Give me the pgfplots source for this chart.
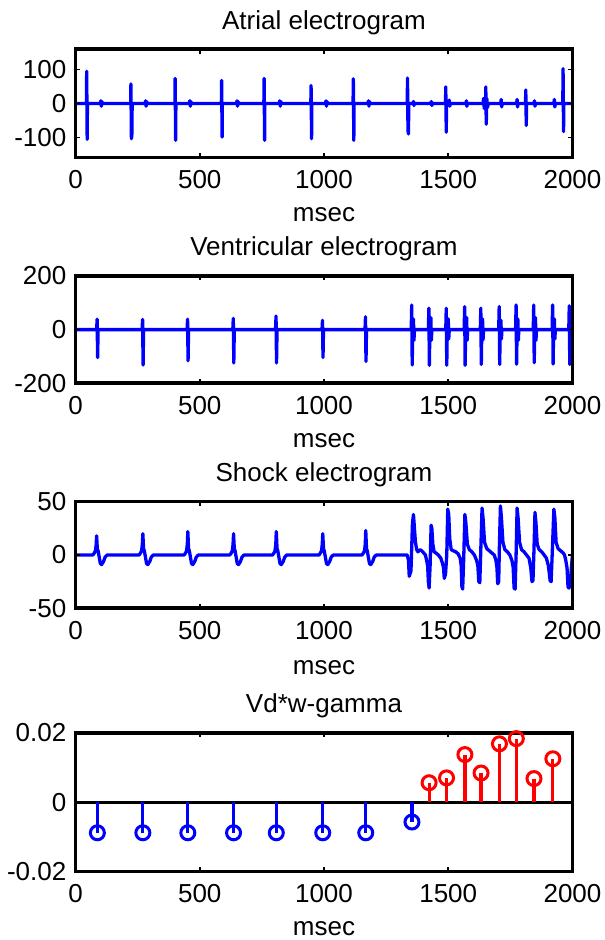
\documentclass[border=0pt]{standalone}
\usepackage{fontspec}
\setmainfont{Liberation Sans}
\usepackage{pgfplots}
\usepackage{pgfplotstable}
\pgfplotsset{compat=1.18}
\definecolor{mblue}{rgb}{0,0,1}
\definecolor{mred}{rgb}{1,0,0}

\pgfplotstableread{
x y
0 0
44 0
45 95
47 -106
48 0
100 0
102 8
104 -8
106 6
108 0
222 0
223 58
225 -104
227 -90
228 0
280 0
282 8
284 -8
286 6
288 0
400 0
401 74
403 -109
404 0
458 0
460 8
462 -8
464 6
466 0
587 0
588 68
590 -99
591 0
648 0
650 8
652 -8
654 6
656 0
758 0
759 74
761 -109
762 0
820 0
822 8
824 -8
826 6
828 0
947 0
948 53
950 -104
951 0
1006 0
1008 8
1010 -8
1012 6
1014 0
1117 0
1118 73
1120 -109
1121 0
1177 0
1179 8
1181 -8
1183 6
1185 0
1335 0
1336 75
1338 -80
1340 -90
1341 0
1358 0
1360 6
1362 -6
1364 0
1430 0
1432 6
1434 -6
1436 0
1489 0
1490 49
1492 -85
1493 0
1502 0
1504 10
1506 -8
1508 0
1571 0
1573 8
1575 -8
1577 0
1640 0
1642 15
1645 -15
1648 12
1650 -10
1651 49
1653 -61
1655 15
1658 -12
1661 0
1711 0
1713 12
1715 -10
1717 0
1775 0
1777 12
1779 -10
1781 0
1811 0
1812 40
1814 -65
1815 0
1845 0
1847 8
1849 -8
1851 0
1925 0
1927 12
1929 -10
1931 0
1961 0
1962 103
1964 -83
1965 0
2000 0
}\atrial

\pgfplotstableread{
x y
0 0
85 0
87 39
89 -104
91 0
268 0
270 38
272 -132
274 0
449 0
451 39
453 -116
455 0
633 0
635 42
637 -124
639 0
805 0
807 51
809 -124
811 0
992 0
994 35
996 -104
998 0
1165 0
1167 48
1169 -119
1171 0
1351 0
1353 92
1355 -132
1357 0
1360 40
1362 -40
1364 0
1420 0
1422 80
1424 -133
1426 0
1430 45
1432 -40
1434 0
1490 0
1492 80
1494 -133
1496 0
1500 40
1502 -35
1504 0
1564 0
1566 86
1568 -133
1570 0
1574 45
1576 -40
1578 0
1629 0
1631 80
1633 -130
1635 0
1638 40
1640 -38
1642 0
1703 0
1705 86
1707 -130
1709 0
1712 35
1714 -35
1716 0
1771 0
1773 92
1775 -129
1777 0
1780 40
1782 -40
1784 0
1842 0
1844 92
1846 -123
1848 0
1851 45
1853 -40
1855 0
1918 0
1920 92
1922 -128
1924 0
1927 40
1929 -35
1931 0
1985 0
1987 89
1989 -130
1991 0
1996 40
1998 -30
2000 0
}\ventr

\pgfplotstableread{
x y
0 0
70 0
76 2
80 4
83 9
85 18
88 5
91 4
94 0
100 -8
105 -9
113 -6
119 -2
127 0
256 0
262 2
266 4
269 10
271 20
274 6
277 4
280 0
286 -8
291 -9
299 -6
305 -2
313 0
437 0
443 2
447 4
450 10
452 22
455 6
458 4
461 0
467 -8
472 -9
480 -6
486 -2
494 0
621 0
627 2
631 4
634 10
636 20
639 6
642 4
645 0
651 -8
656 -9
664 -6
670 -2
678 0
793 0
799 2
803 4
806 10
808 22
811 6
814 4
817 0
823 -8
828 -9
836 -6
842 -2
850 0
980 0
986 2
990 4
993 10
995 20
998 6
1001 4
1004 0
1010 -8
1015 -9
1023 -6
1029 -2
1037 0
1153 0
1159 2
1163 4
1166 10
1168 23
1171 6
1174 4
1177 0
1183 -8
1188 -9
1196 -6
1202 -2
1210 0
1335 0
1340 -5
1343 -20
1350 -15
1356 30
1360 38
1364 25
1368 12
1373 5
1378 3
1386 5
1393 4
1401 2
1408 0
1413 -5
1417 -10
1420 -25
1423 -31
1427 -10
1431 28
1434 25
1438 10
1443 3
1450 2
1460 0
1470 -3
1477 -8
1481 -12
1484 -22
1489 -18
1494 0
1498 43
1502 38
1506 15
1512 5
1520 4
1530 3
1540 1
1548 -3
1552 -10
1555 -30
1558 -32
1562 -5
1567 38
1571 30
1577 10
1585 5
1595 3
1605 0
1614 -5
1619 -10
1623 -25
1627 -26
1631 5
1636 44
1640 35
1646 12
1655 6
1665 4
1675 2
1685 0
1692 -5
1696 -12
1699 -27
1703 -25
1706 10
1710 46
1714 35
1720 12
1728 5
1738 3
1748 0
1756 -5
1761 -11
1765 -31
1769 -32
1773 0
1777 44
1781 35
1787 12
1795 5
1805 3
1815 0
1825 -3
1832 -12
1837 -25
1841 -24
1845 5
1849 40
1853 30
1858 10
1866 5
1876 3
1886 0
1895 -3
1903 -10
1910 -24
1914 -25
1919 5
1925 43
1929 35
1934 12
1942 6
1952 4
1962 2
1968 0
1973 -5
1978 -12
1982 -30
1986 -31
1991 -28
1996 -10
2000 0
}\shock

\pgfplotstableread{
x y
88 -0.0088
271 -0.0088
452 -0.0088
636 -0.0088
808 -0.0088
995 -0.0088
1168 -0.0088
1354 -0.0057
}\stemneg

\pgfplotstableread{
x y
1423 0.0056
1493 0.0070
1567 0.0137
1632 0.0084
1706 0.0168
1774 0.0183
1845 0.0068
1921 0.0125
}\stempos

\pgfplotsset{
  mystyle/.style={
    scale only axis, width=497pt, anchor=south west,
    xmin=0, xmax=2000,
    xtick={0,500,1000,1500,2000},
    xticklabels={{0},{500},{1000},{1500},{2000}},
    tick align=inside, major tick length=4.5pt,
    tick style={line width=1.6pt, black},
    axis line style={line width=3.6pt, black},
    axis on top,
    scaled y ticks=false,
    font=\fontsize{26}{30}\selectfont,
    xticklabel style={anchor=center, yshift=-22pt, inner sep=0pt},
    yticklabel style={anchor=east, xshift=-9pt, inner sep=0pt},
    title style={at={(0.5,1)}, anchor=center, yshift=21pt},
    xlabel={msec},
    xlabel style={at={(0.5,0)}, anchor=center, yshift=-57pt},
  },
  sig/.style={mblue, line width=3.3pt, line join=round},
  stem/.style={ycomb, line width=3.2pt, mark=o, mark size=7pt, mark options={line width=3pt}},
}

\begin{document}
\begin{tikzpicture}
\useasboundingbox (0,0) rectangle (605pt,940pt);

\begin{axis}[mystyle, at={(75.5pt,782.3pt)}, height=108.4pt,
  ymin=-160, ymax=160, ytick={-100,0,100}, yticklabels={{-100},{0},{100}},
  title={Atrial electrogram}]
\addplot[sig] table[x=x,y=y] {\atrial};
\end{axis}

\begin{axis}[mystyle, at={(75.5pt,556.7pt)}, height=107.3pt,
  ymin=-200, ymax=200, ytick={-200,0,200}, yticklabels={{-200},{0},{200}},
  title={Ventricular electrogram}]
\addplot[sig] table[x=x,y=y] {\ventr};
\end{axis}

\begin{axis}[mystyle, at={(75.5pt,331.7pt)}, height=106.6pt,
  ymin=-50, ymax=50, ytick={-50,0,50}, yticklabels={{-50},{0},{50}},
  title={Shock electrogram}, xlabel style={yshift=-2pt}]
\addplot[sig] table[x=x,y=y] {\shock};
\end{axis}

\begin{axis}[mystyle, at={(75.5pt,68.3pt)}, height=139pt,
  ymin=-0.02, ymax=0.02, ytick={-0.02,0,0.02}, yticklabels={{-0.02},{0},{0.02}},
  title={Vd*w-gamma}]
\addplot[black, line width=3pt] coordinates {(0,0) (2000,0)};
\addplot[mblue, stem] table[x=x,y=y] {\stemneg};
\addplot[mred, stem] table[x=x,y=y] {\stempos};
\end{axis}
\end{tikzpicture}
\end{document}
